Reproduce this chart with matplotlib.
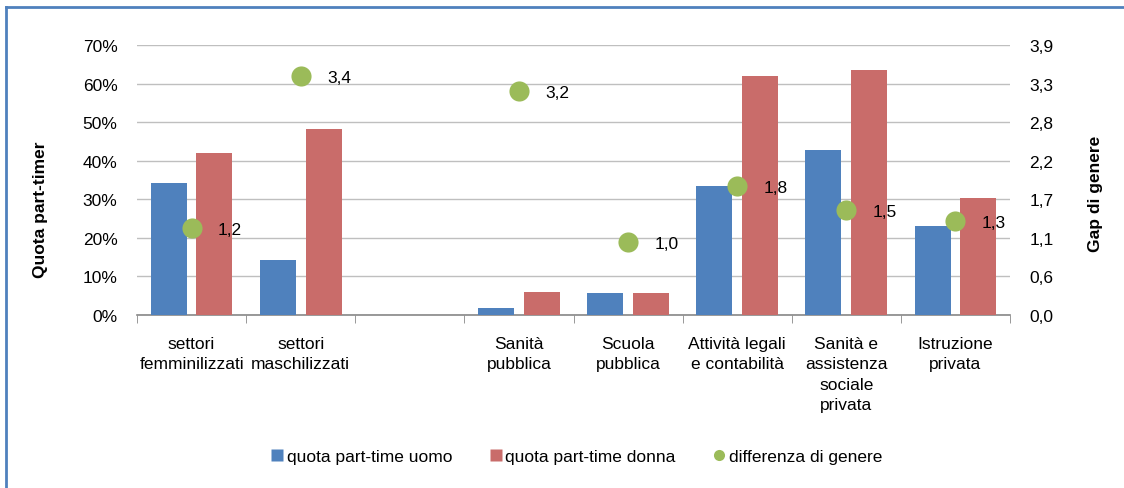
import numpy as np
import matplotlib
matplotlib.use("Agg")
import matplotlib.pyplot as plt
from matplotlib.lines import Line2D

plt.rcParams['font.family'] = ['Liberation Sans', 'DejaVu Sans']

categories = ["settori\nfemminilizzati", "settori\nmaschilizzati", "",
              "Sanità\npubblica", "Scuola\npubblica",
              "Attività legali\ne contabilità",
              "Sanità e\nassistenza\nsociale\nprivata",
              "Istruzione\nprivata"]
quota_uomo = [34.2, 14.3, np.nan, 1.8, 5.7, 33.4, 42.8, 23.0]
quota_donna = [42.0, 48.2, np.nan, 6.0, 5.7, 62.0, 63.5, 30.3]
gap_genere = [1.24, 3.41, np.nan, 3.19, 1.04, 1.84, 1.50, 1.34]

left_ticks = [0, 10, 20, 30, 40, 50, 60, 70]
left_ticklabels = ["0%", "10%", "20%", "30%", "40%", "50%", "60%", "70%"]
right_ticks = [0, 0.55, 1.10, 1.65, 2.20, 2.75, 3.30, 3.85]
right_ticklabels = ["0,0", "0,6", "1,1", "1,7", "2,2", "2,8", "3,3", "3,9"]

BLUE = "#4F81BD"
RED = "#C96C6A"
GREEN = "#9BBB59"
FS = 12.5

fig = plt.figure(figsize=(11.24, 4.89), dpi=100)
ax = fig.add_axes([137/1124, 1-316/489, 873/1124, 270/489])
ax2 = ax.twinx()

x = np.arange(len(categories))
w = 0.33
ax.bar(x - 0.21, quota_uomo, w, color=BLUE, zorder=3, label="quota part-time uomo")
ax.bar(x + 0.21, quota_donna, w, color=RED, zorder=3, label="quota part-time donna")

ax.set_xlim(-0.5, len(categories) - 0.5)
ax.set_ylim(0, 70)
ax.set_yticks(left_ticks)
ax.set_yticklabels(left_ticklabels)
ax.yaxis.grid(True, color="#BFBFBF", linewidth=1.0, zorder=0)
ax.set_axisbelow(True)
ax.tick_params(axis='y', length=0, pad=14, labelsize=FS)

ax.set_xticks(x)
ax.set_xticklabels(categories, fontsize=FS, linespacing=1.45)
ax.set_xticks(np.arange(len(categories) + 1) - 0.5, minor=True)
ax.tick_params(axis='x', which='major', length=0, pad=15)
ax.tick_params(axis='x', which='minor', length=6, color="#888888", direction='out')

for s in ['top', 'left', 'right']:
    ax.spines[s].set_visible(False)
ax.spines['bottom'].set_color("#888888")
ax.spines['bottom'].set_linewidth(1.2)

ax2.scatter(x, gap_genere, s=210, color=GREEN, zorder=4, linewidths=0)
for xi, g in zip(x, gap_genere):
    if np.isnan(g):
        continue
    ax2.annotate(f"{g:.1f}".replace(".", ","), (xi, g), xytext=(19, -1),
                 textcoords="offset points", ha="left", va="center", fontsize=FS)
ax2.set_ylim(0, 3.85)
ax2.set_yticks(right_ticks)
ax2.set_yticklabels(right_ticklabels)
ax2.tick_params(axis='y', length=0, pad=14, labelsize=FS)
for s in ['top', 'left', 'right', 'bottom']:
    ax2.spines[s].set_visible(False)

ax.set_ylabel("Quota part-timer", fontsize=FS, fontweight='bold')
ax.yaxis.set_label_coords(-0.102, 0.394)
ax2.set_ylabel("Gap di genere", fontsize=FS, fontweight='bold', rotation=90)
ax2.yaxis.set_label_coords(1.0893, 0.452)

handles = [
    Line2D([], [], marker='s', color='none', markerfacecolor=BLUE, markeredgecolor='none', markersize=8),
    Line2D([], [], marker='s', color='none', markerfacecolor=RED, markeredgecolor='none', markersize=8),
    Line2D([], [], marker='o', color='none', markerfacecolor=GREEN, markeredgecolor='none', markersize=8),
]
labels = ["quota part-time uomo", "quota part-time donna", "differenza di genere"]
fig.legend(handles, labels, loc='center', bbox_to_anchor=(577/1124, 1-457/489),
           ncol=3, frameon=False, fontsize=FS, handlelength=0.6, handletextpad=0.25,
           columnspacing=2.2)

# figure border (left and top)
fig.add_artist(Line2D([6/1124, 6/1124], [0, 1-8/489], transform=fig.transFigure,
                      color=BLUE, linewidth=2))
fig.add_artist(Line2D([6/1124, 1], [1-8/489, 1-8/489], transform=fig.transFigure,
                      color=BLUE, linewidth=2))

fig.savefig("out.png", dpi=100)
